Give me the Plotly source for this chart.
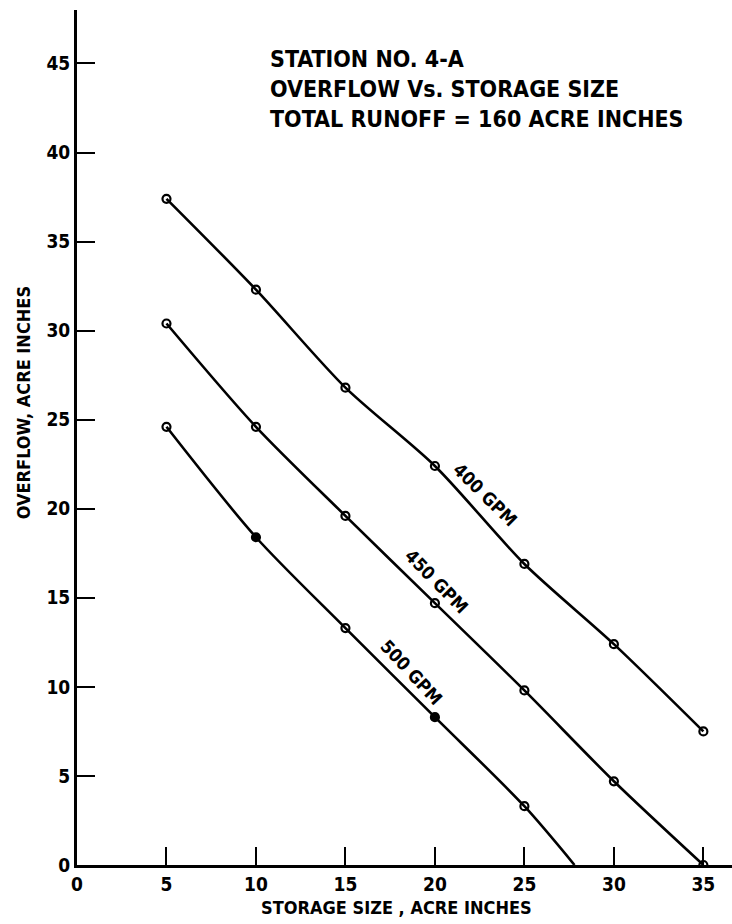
import plotly.graph_objects as go

# Storage size (acre inches) at which overflow was computed
storage = [5, 10, 15, 20, 25, 30, 35]

# Overflow (acre inches) for each pumping rate
overflow_400 = [37.4, 32.3, 26.8, 22.4, 16.9, 12.4, 7.5]
overflow_450 = [30.4, 24.6, 19.6, 14.7, 9.8, 4.7, 0.0]
overflow_500 = [24.6, 18.4, 13.3, 8.3, 3.3]
storage_500 = [5, 10, 15, 20, 25]
# where the 500 GPM curve reaches zero overflow
zero_overflow_500 = 27.8

# filled markers on the 500 GPM curve
filled_500 = [False, True, False, True, False]

x_ticks = [0, 5, 10, 15, 20, 25, 30, 35]
y_ticks = [0, 5, 10, 15, 20, 25, 30, 35, 40, 45]

FONT = "DejaVu Sans Condensed, Liberation Sans Narrow, Roboto Condensed, DejaVu Sans, sans-serif"
INK = "black"

fig = go.Figure()

def add_curve(xs, ys, line_x=None, line_y=None, symbols=None):
    lx = xs if line_x is None else line_x
    ly = ys if line_y is None else line_y
    fig.add_trace(go.Scatter(
        x=lx, y=ly, mode="lines",
        line=dict(color=INK, width=2.6, shape="spline", smoothing=0.8),
        hoverinfo="skip", showlegend=False,
    ))
    fig.add_trace(go.Scatter(
        x=xs, y=ys, mode="markers",
        marker=dict(symbol=symbols or "circle-open", size=8, color=INK,
                    line=dict(color=INK, width=2.2)),
        showlegend=False,
    ))

add_curve(storage, overflow_400)
add_curve(storage, overflow_450)
add_curve(storage_500, overflow_500,
          line_x=storage_500 + [zero_overflow_500],
          line_y=overflow_500 + [0.0],
          symbols=["circle" if f else "circle-open" for f in filled_500])

# curve labels written along each line
labels = [
    ("400 GPM", 22.8, 20.8, 44.5),
    ("450 GPM", 20.1, 15.9, 45.5),
    ("500 GPM", 18.7, 10.8, 47.0),
]
for text, lx, ly, ang in labels:
    fig.add_annotation(x=lx, y=ly, text=text, showarrow=False, textangle=ang,
                       font=dict(family=FONT, size=18, color=INK, weight="bold"))

# chart heading
fig.add_annotation(
    xref="paper", yref="paper", x=0.2916, y=0.96, xanchor="left", yanchor="top",
    align="left", showarrow=False,
    text="STATION NO. 4-A<br>OVERFLOW Vs. STORAGE SIZE<br>TOTAL RUNOFF = 160 ACRE INCHES",
    font=dict(family=FONT, size=23, color=INK, weight="bold"),
)

# axis titles
fig.add_annotation(
    xref="paper", yref="paper", x=(396 - 77) / 655, y=-0.05, yanchor="middle",
    showarrow=False, text="STORAGE SIZE , ACRE INCHES",
    font=dict(family=FONT, size=18, color=INK, weight="bold"),
)
fig.add_annotation(
    xref="paper", yref="paper", x=-0.082, y=(865 - 403) / 855, xanchor="center",
    showarrow=False, text="OVERFLOW, ACRE INCHES", textangle=-90,
    font=dict(family=FONT, size=18, color=INK, weight="bold"),
)

axis_common = dict(
    showgrid=False, zeroline=False, showline=True, linecolor=INK, linewidth=3,
    ticks="inside", ticklen=18, tickwidth=2.2, tickcolor=INK,
    tickfont=dict(family=FONT, size=19, color=INK, weight="bold"),
    tickmode="array",
)
fig.update_xaxes(range=[0, 36.6], tickvals=x_ticks,
                 ticktext=[str(v) for v in x_ticks], **axis_common)
fig.update_yaxes(range=[0, 48], tickvals=y_ticks,
                 ticktext=[str(v) for v in y_ticks], **axis_common)

fig.update_layout(
    width=732, height=924,
    margin=dict(l=77, r=0, t=10, b=59),
    paper_bgcolor="white", plot_bgcolor="white",
    font=dict(family=FONT, color=INK),
)

fig.write_html("out.html")
